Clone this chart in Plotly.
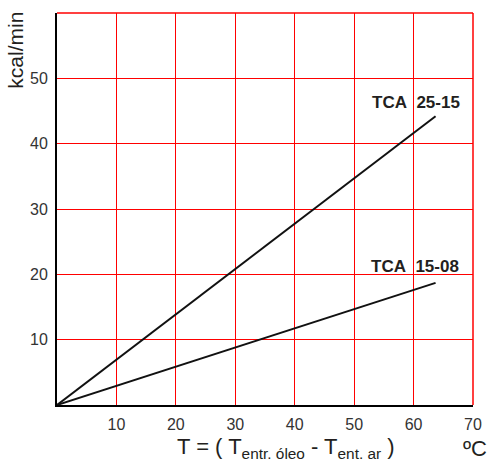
import plotly.graph_objects as go

# Data
delta_t = [0, 63.7]
tca_25_15 = [0, 44.2]
tca_15_08 = [0, 18.7]
series_names = ["TCA  25-15", "TCA  15-08"]
x_ticks = [10, 20, 30, 40, 50, 60, 70]
y_ticks = [10, 20, 30, 40, 50, 60]
y_ticktext = ["10", "20", "30", "40", "50", ""]
label_pos = [(68.2, 46.3), (68.0, 21.25)]

FONT = "Liberation Sans, Arial, sans-serif"

fig = go.Figure()
for name, ys in zip(series_names, [tca_25_15, tca_15_08]):
    fig.add_trace(go.Scatter(x=delta_t, y=ys, mode="lines", name=name,
                             line=dict(color="#111111", width=2),
                             showlegend=False, hoverinfo="skip"))

for name, (lx, ly) in zip(series_names, label_pos):
    fig.add_annotation(x=lx, y=ly, text="<b>" + name.replace("  ", "&nbsp;&nbsp;") + "</b>",
                       showarrow=False, xanchor="right", yanchor="middle",
                       font=dict(family=FONT, size=17, color="#231f20"))

fig.add_annotation(xref="paper", yref="paper", x=0.55, y=-0.11,
                   text="T = ( T<sub>entr. óleo</sub> - T<sub>ent. ar</sub> )",
                   showarrow=False, xanchor="center", yanchor="middle",
                   font=dict(family=FONT, size=22, color="#231f20"))
fig.add_annotation(xref="paper", yref="paper", x=1.004, y=-0.11,
                   text="ºC", showarrow=False, xanchor="center", yanchor="middle",
                   font=dict(family=FONT, size=22, color="#231f20"))
fig.add_annotation(xref="paper", yref="paper", x=-0.1, y=0.905,
                   text="kcal/min", textangle=-90, showarrow=False,
                   xanchor="center", yanchor="middle",
                   font=dict(family=FONT, size=21, color="#231f20"))

# red frame on top and right (grid lines at range edges)
fig.add_shape(type="line", xref="paper", yref="paper", x0=0, x1=1, y0=1, y1=1,
              line=dict(color="#ff0000", width=1.5))
fig.add_shape(type="line", xref="paper", yref="paper", x0=1, x1=1, y0=0, y1=1,
              line=dict(color="#ff0000", width=1.5))

fig.update_xaxes(range=[0, 70], tickvals=x_ticks, showgrid=True, gridcolor="#ff0000",
                 gridwidth=1, zeroline=False, showline=True, linecolor="#000000",
                 linewidth=2, ticks="", ticklabelstandoff=4, ticklabeloverflow="allow",
                 automargin=False,
                 tickfont=dict(family=FONT, size=16, color="#333333"))
fig.update_yaxes(range=[0, 60], tickvals=y_ticks, ticktext=y_ticktext, showgrid=True,
                 gridcolor="#ff0000", gridwidth=1, zeroline=False, showline=True,
                 linecolor="#000000", linewidth=2, ticks="", ticklabelstandoff=4,
                 automargin=False,
                 tickfont=dict(family=FONT, size=16, color="#333333"))

fig.update_layout(width=488, height=459, plot_bgcolor="white", paper_bgcolor="white",
                  margin=dict(l=57, r=15, t=13, b=54))

fig.write_html("out.html", config={"displayModeBar": False},
               post_script="document.body.style.margin='0px';document.body.style.overflow='hidden';")
